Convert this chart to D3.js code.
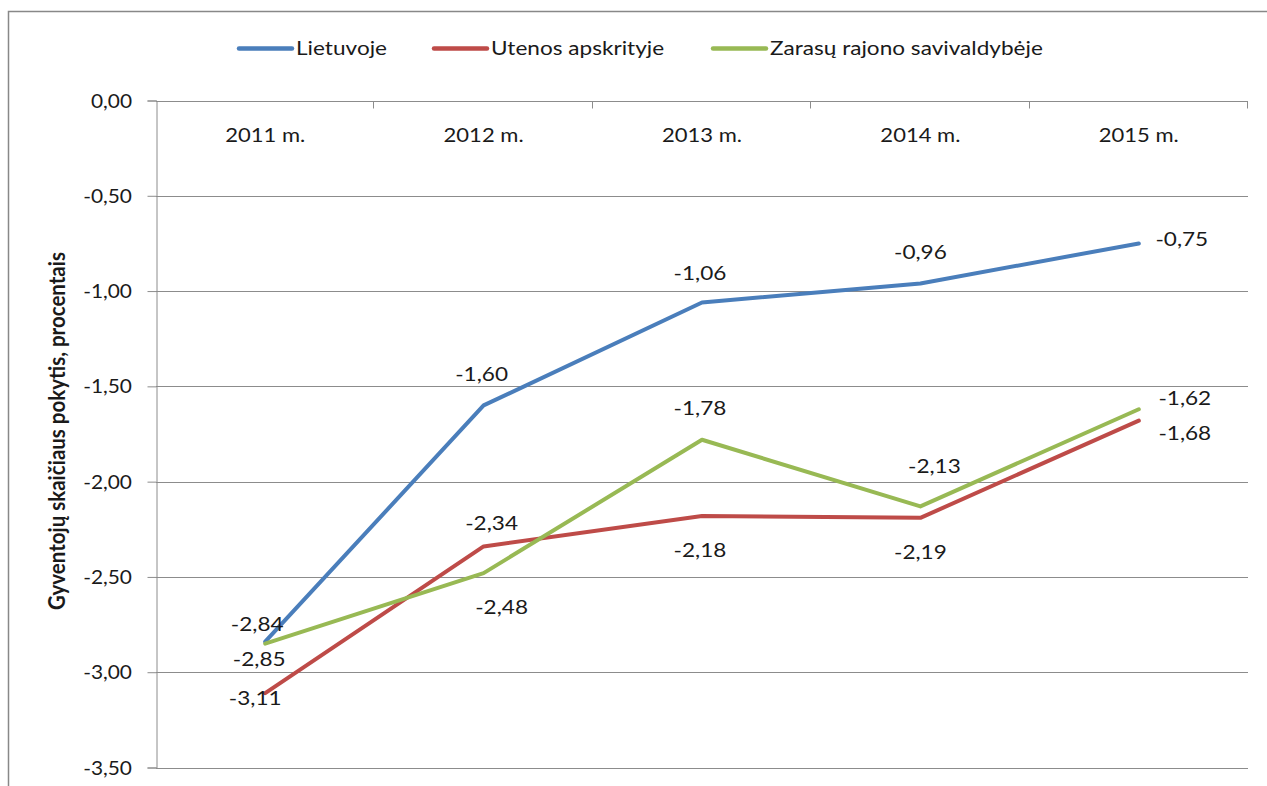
<!DOCTYPE html>
<html><head><meta charset="utf-8">
<script src="https://cdn.jsdelivr.net/npm/d3@7/dist/d3.min.js"></script>
<style>body{margin:0;background:#fff}text{font-family:Lato,"Open Sans",sans-serif;fill:#1a1a1a}</style>
</head><body><svg id="c" width="1267" height="786"></svg>
<script>
const categories = ["2011 m.","2012 m.","2013 m.","2014 m.","2015 m."];
const seriesNames = ["Lietuvoje","Utenos apskrityje","Zarasų rajono savivaldybėje"];
const lietuvoje = [-2.84,-1.60,-1.06,-0.96,-0.75];
const utenos = [-3.11,-2.34,-2.18,-2.19,-1.68];
const zarasu = [-2.85,-2.48,-1.78,-2.13,-1.62];
const yTicks = [0,-0.5,-1,-1.5,-2,-2.5,-3,-3.5];
const yTitle = "Gyventojų skaičiaus pokytis, procentais";

const colors = ["#4a7ebb","#be4b48","#98b954"];
// label placements [dx, dy] per series per point
const labelPos = [
  [[-8,-18],[-2,-32],[-2,-30],[0,-32],[43,-5]],
  [[-10,4],[8,-24],[-2,34],[0,34],[46,12]],
  [[-6,15],[18,33],[-2,-32],[14,-41],[46,-12]]
];
const SX = 1.13;
const fmt = v => d3.format(".2f")(v).replace(".",",").replace("−","-");

const svg = d3.select("#c");
function stext(g, x, y, str, size, anchor, weight){
  return g.append("text").attr("transform",`translate(${x},${y}) scale(${SX},1)`)
    .attr("text-anchor",anchor||"start").attr("dominant-baseline","central")
    .style("font-size",size+"px").style("font-weight",weight||"normal").text(str);
}

svg.append("rect").attr("x",8.5).attr("y",11.5).attr("width",1300).attr("height",800)
  .attr("fill","none").attr("stroke","#888").attr("stroke-width",1.5);

const L=156,R=1248,T=100.5,B=767.5;
const x = d3.scaleBand().domain(categories).range([L,R]);
const y = d3.scaleLinear().domain([-3.5,0]).range([B,T]);
const cx = c => x(c)+x.bandwidth()/2;

// gridlines
svg.append("g").selectAll("line").data(yTicks.filter(v=>v!==0)).join("line")
  .attr("x1",L).attr("x2",R).attr("y1",d=>Math.round(y(d))+0.5).attr("y2",d=>Math.round(y(d))+0.5)
  .attr("stroke","#8c8c8c").attr("stroke-width",1);

// y axis
const ya = svg.append("g").attr("transform",`translate(${L+0.5},0)`)
  .call(d3.axisLeft(y).tickValues(yTicks).tickSize(9).tickFormat(""));
ya.select(".domain").attr("stroke","#8c8c8c");
ya.selectAll(".tick line").attr("stroke","#8c8c8c");
const yl = svg.append("g");
yTicks.forEach(v=>stext(yl, 132, y(v), fmt(v), 18.5, "end"));

// x axis at top (y=0)
const xa = svg.append("g").attr("transform",`translate(0,${Math.round(T)+0.5})`)
  .call(d3.axisBottom(x).tickSize(0).tickFormat(""));
xa.select(".domain").attr("d",`M${L},0H${R}`).attr("stroke","#8c8c8c");
const bounds = categories.map(c=>x(c)+x.bandwidth());
xa.selectAll(".bt").data(bounds).join("line").attr("class","bt")
  .attr("x1",d=>Math.round(d)-0.5).attr("x2",d=>Math.round(d)-0.5).attr("y1",0).attr("y2",7)
  .attr("stroke","#8c8c8c");
const xl = svg.append("g");
categories.forEach(c=>stext(xl, cx(c), 134, c, 19.5, "middle"));

// y title
svg.append("text").attr("transform",`translate(56,431) scale(${SX},1) rotate(-90)`)
  .attr("text-anchor","middle").attr("dominant-baseline","central")
  .style("font-size","20.5px").style("font-weight","bold").text(yTitle);

// lines
const data = [lietuvoje,utenos,zarasu];
const line = d3.line().x((d,i)=>cx(categories[i])).y(d=>y(d));
data.forEach((arr,s)=>{
  svg.append("path").datum(arr).attr("d",line).attr("fill","none")
    .attr("stroke",colors[s]).attr("stroke-width",4).attr("stroke-linejoin","round").attr("stroke-linecap","round");
});
data.forEach((arr,s)=>{
  const g = svg.append("g");
  arr.forEach((v,i)=>stext(g, cx(categories[i])+labelPos[s][i][0], y(v)+labelPos[s][i][1], fmt(v), 20, "middle"));
});

// legend
const lx=[239,434,713];
const lg = svg.append("g");
seriesNames.forEach((n,i)=>{
  lg.append("line").attr("x1",lx[i]).attr("x2",lx[i]+53).attr("y1",48.5).attr("y2",48.5)
    .attr("stroke",colors[i]).attr("stroke-width",4.5).attr("stroke-linecap","round");
  stext(lg, lx[i]+57, 48, n, 20, "start");
});
</script></body></html>
